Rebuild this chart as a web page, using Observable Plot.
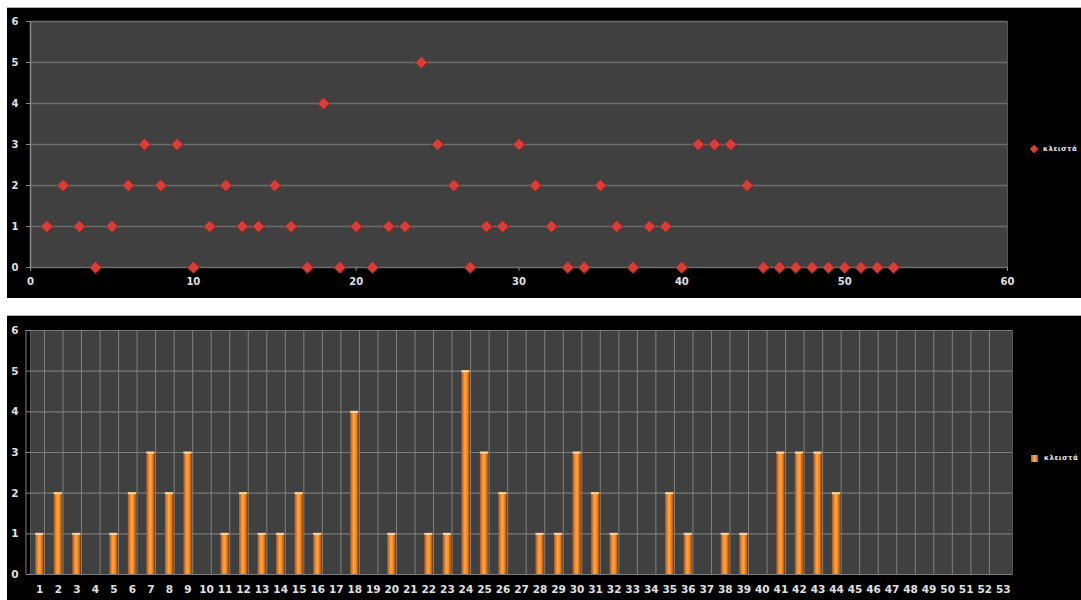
<!DOCTYPE html>
<html><head><meta charset="utf-8">
<script src="https://cdn.jsdelivr.net/npm/d3@7"></script>
<script src="https://cdn.jsdelivr.net/npm/@observablehq/plot@0.6"></script>
<style>
body{margin:0;background:#fff;width:1081px;height:600px;position:relative;overflow:hidden;font-family:"DejaVu Sans",sans-serif}
.panel{position:absolute;left:7px;width:1074px;background:#000;border-top:1px solid #b0b0b0}
.panel svg{display:block;background:#000}
.legend{position:absolute;color:#e8e8e8;font-size:7px;font-weight:bold;display:flex;align-items:center;gap:6px;letter-spacing:0.5px}
</style></head>
<body>
<div id="topPanel" class="panel" style="top:7px;height:290px"></div>
<div id="bottomPanel" class="panel" style="top:315px;height:285px"></div>
<script>
const seriesName = "κλειστά";
const days = [1,2,3,4,5,6,7,8,9,10,11,12,13,14,15,16,17,18,19,20,21,22,23,24,25,26,27,28,29,30,31,32,33,34,35,36,37,38,39,40,41,42,43,44,45,46,47,48,49,50,51,52,53];
const counts = [1,2,1,0,1,2,3,2,3,0,1,2,1,1,2,1,0,4,0,1,0,1,1,5,3,2,0,1,1,3,2,1,0,0,2,1,0,1,1,0,3,3,3,2,0,0,0,0,0,0,0,0,0];
const yTicks = [0,1,2,3,4,5,6];
const xTicksTop = [0,10,20,30,40,50,60];

const data = days.map((d,i) => ({day: d, value: counts[i]}));
const axisColor = "#8a8a8a";
const labelColor = "#e0e0e0";
const fmt = d3.format("d");

const topChart = Plot.plot({
  width: 1074, height: 290,
  marginLeft: 23, marginRight: 74, marginTop: 13, marginBottom: 31,
  style: {background: "#000", color: labelColor, fontSize: "10px", fontWeight: "bold", fontFamily: "DejaVu Sans, sans-serif"},
  x: {domain: [0, 60], ticks: xTicksTop, label: null},
  y: {domain: [0, 6], ticks: yTicks, label: null},
  marks: [
    Plot.frame({fill: "#404040", stroke: "#555"}),
    Plot.ruleY(yTicks, {stroke: "#6e6e6e", strokeWidth: 1.5}),
    Plot.ruleX([0], {stroke: axisColor, strokeWidth: 1.5}),
    Plot.axisY({ticks: yTicks, tickFormat: fmt, label: null, tickSize: 4, tickPadding: 8, stroke: axisColor, fill: labelColor}),
    Plot.axisX({ticks: xTicksTop, tickFormat: fmt, label: null, tickSize: 4, tickPadding: 6, stroke: axisColor, fill: labelColor}),
    Plot.dot(data, {x: "day", y: "value", symbol: "diamond2", r: 5.5, fill: "#d43f3a", stroke: "#8e2020", strokeWidth: 0.8})
  ]
});
document.getElementById("topPanel").appendChild(topChart);

const bottomChart = Plot.plot({
  width: 1074, height: 285,
  marginLeft: 23, marginRight: 69, marginTop: 14, marginBottom: 27,
  style: {background: "#000", color: labelColor, fontSize: "10.5px", fontWeight: "bold", fontFamily: "DejaVu Sans, sans-serif"},
  x: {type: "band", domain: days, paddingInner: 0.56, paddingOuter: 0.28, align: 0.5, round: false, label: null},
  y: {domain: [0, 6], ticks: yTicks, label: null},
  marks: [
    Plot.frame({fill: "#404040", stroke: "#555"}),
    Plot.ruleY(yTicks, {stroke: "#7a7a7a", strokeWidth: 1.2}),
    Plot.ruleX(days, {x: d => d, stroke: "#808080", strokeWidth: 1, render: (index, scales, values, dims, context, next) => {
      const g = next(index, scales, values, dims, context);
      const xs = values.x;
      const step = xs[1] - xs[0];
      g.setAttribute("transform", `translate(${-step / 2},0)`);
      return g;
    }}),
    Plot.axisY({ticks: yTicks, tickFormat: fmt, label: null, tickSize: 4, tickPadding: 8, stroke: axisColor, fill: labelColor}),
    Plot.axisX({tickSize: 0, tickPadding: 11, label: null, fill: labelColor}),
    Plot.barY(data, {x: "day", y: "value", fill: "url(#barGrad)"}),
    Plot.tickY(data.filter(d => d.value > 0), {x: "day", y: "value", stroke: "#ffd9a0", strokeWidth: 2})
  ]
});
const defs = document.createElementNS("http://www.w3.org/2000/svg", "defs");
defs.innerHTML = `<linearGradient id="barGrad" x1="0" x2="1" y1="0" y2="0">
  <stop offset="0" stop-color="#b8560f"/>
  <stop offset="0.45" stop-color="#ffa64a"/>
  <stop offset="0.7" stop-color="#f48a22"/>
  <stop offset="1" stop-color="#a84c0c"/>
</linearGradient>`;
bottomChart.insertBefore(defs, bottomChart.firstChild);
document.getElementById("bottomPanel").appendChild(bottomChart);

function legend(topPx, swatchCss) {
  const div = document.createElement("div");
  div.className = "legend";
  div.style.left = "1031px";
  div.style.top = topPx + "px";
  const sw = document.createElement("span");
  sw.style.cssText = swatchCss;
  const tx = document.createElement("span");
  tx.textContent = seriesName;
  div.appendChild(sw); div.appendChild(tx);
  document.body.appendChild(div);
}
legend(145, "display:inline-block;width:6px;height:6px;background:#d43f3a;transform:rotate(45deg)");
legend(454, "display:inline-block;width:7px;height:7px;background:linear-gradient(90deg,#c0601a,#ffb060,#c0601a)");
</script>
</body></html>
